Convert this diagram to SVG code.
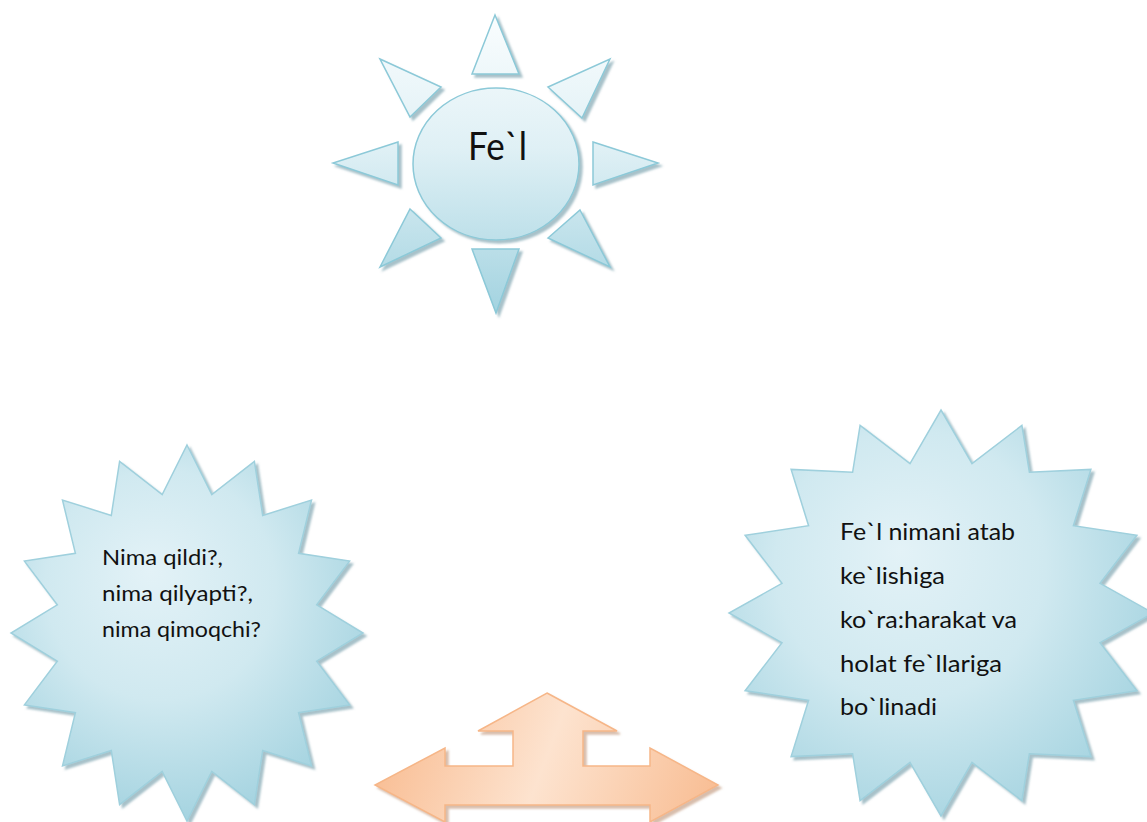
<svg xmlns="http://www.w3.org/2000/svg" width="1147" height="822" viewBox="0 0 1147 822">
  <defs>
    <style>
      .sun { fill: url(#sunGrad); stroke: #8cc9d8; stroke-width: 1.5; filter: url(#shadow); }
      .star { stroke: #9fd0dd; stroke-width: 1.5; filter: url(#shadow); }
      .lbl { font-family: Lato, "Open Sans", "Liberation Sans", sans-serif; fill: #111111; }
    </style>
    <linearGradient id="sunGrad" gradientUnits="userSpaceOnUse" x1="0" y1="15" x2="0" y2="313">
      <stop offset="0" stop-color="#fafdfe"/>
      <stop offset="0.45" stop-color="#dff0f5"/>
      <stop offset="1" stop-color="#a3d3e0"/>
    </linearGradient>
    <radialGradient id="starGradL" gradientUnits="userSpaceOnUse" cx="170" cy="600" r="230" fx="150" fy="570">
      <stop offset="0" stop-color="#e3f2f7"/>
      <stop offset="0.5" stop-color="#d0e9f0"/>
      <stop offset="1" stop-color="#a2d2df"/>
    </radialGradient>
    <radialGradient id="starGradR" gradientUnits="userSpaceOnUse" cx="920" cy="580" r="270" fx="900" fy="550">
      <stop offset="0" stop-color="#e3f2f7"/>
      <stop offset="0.5" stop-color="#d0e9f0"/>
      <stop offset="1" stop-color="#a2d2df"/>
    </radialGradient>
    <linearGradient id="arrowGrad" gradientUnits="userSpaceOnUse" x1="375" y1="693" x2="718" y2="822">
      <stop offset="0" stop-color="#f8b88b"/>
      <stop offset="0.5" stop-color="#fde3cf"/>
      <stop offset="1" stop-color="#f8bb90"/>
    </linearGradient>
    <filter id="shadow" x="-10%" y="-10%" width="125%" height="125%">
      <feDropShadow dx="3" dy="3" stdDeviation="1.2" flood-color="#5f8e9c" flood-opacity="0.55"/>
    </filter>
    <filter id="shadowO" x="-10%" y="-10%" width="125%" height="125%">
      <feDropShadow dx="3" dy="3" stdDeviation="1.2" flood-color="#b07d5a" flood-opacity="0.5"/>
    </filter>
  </defs>

  <g id="sun">
    <polygon class="sun" points="495,15 519,74 472,74"/>
    <polygon class="sun" points="610,59 582,118 548,87"/>
    <polygon class="sun" points="593,142 658,163 593,185"/>
    <polygon class="sun" points="580,210 610,267 548,238"/>
    <polygon class="sun" points="472,249 519,249 496,313"/>
    <polygon class="sun" points="410,209 441,238 380,267"/>
    <polygon class="sun" points="398,142 333,163 398,185"/>
    <polygon class="sun" points="380,59 441,87 410,117"/>
    <ellipse class="sun" cx="496" cy="164" rx="83" ry="76"/>
    <text class="lbl" x="468" y="160" font-size="38" textLength="59" lengthAdjust="spacingAndGlyphs">Fe`l</text>
  </g>

  <g id="star-left">
    <polygon class="star" fill="url(#starGradL)" points="187.0,445.0 211.8,494.7 254.4,461.3 262.7,515.4 311.5,500.1 298.6,553.3 349.6,561.1 316.7,604.8 363.0,633.0 316.7,661.2 349.6,704.9 298.6,712.7 311.5,765.9 262.7,750.6 254.4,804.7 211.8,771.3 187.0,821.0 162.2,771.3 119.6,804.7 111.3,750.6 62.5,765.9 75.4,712.7 24.4,704.9 57.3,661.2 11.0,633.0 57.3,604.8 24.4,561.1 75.4,553.3 62.5,500.1 111.3,515.4 119.6,461.3 162.2,494.7"/>
    <text class="lbl" font-size="22">
      <tspan x="102" y="565" textLength="121" lengthAdjust="spacingAndGlyphs">Nima qildi?,</tspan>
      <tspan x="102" y="601" textLength="151" lengthAdjust="spacingAndGlyphs">nima qilyapti?,</tspan>
      <tspan x="102" y="637" textLength="159" lengthAdjust="spacingAndGlyphs">nima qimoqchi?</tspan>
    </text>
  </g>

  <g id="star-right">
    <polygon class="star" fill="url(#starGradR)" points="941.0,410.0 972.0,463.6 1021.9,425.4 1029.4,472.3 1090.9,469.4 1073.4,525.7 1136.9,535.3 1100.0,583.3 1153.0,613.0 1100.0,642.7 1136.9,690.7 1073.4,700.3 1090.9,756.6 1029.4,753.7 1021.9,800.6 972.0,762.4 941.0,816.0 910.0,762.4 860.1,800.6 852.6,753.7 791.1,756.6 808.6,700.3 745.1,690.7 782.0,642.7 729.0,613.0 782.0,583.3 745.1,535.3 808.6,525.7 791.1,469.4 852.6,472.3 860.1,425.4 910.0,463.6"/>
    <text class="lbl" font-size="23">
      <tspan x="840" y="540" textLength="175" lengthAdjust="spacingAndGlyphs">Fe`l nimani atab</tspan>
      <tspan x="840" y="584" textLength="105" lengthAdjust="spacingAndGlyphs">ke`lishiga</tspan>
      <tspan x="840" y="628" textLength="177" lengthAdjust="spacingAndGlyphs">ko`ra:harakat va</tspan>
      <tspan x="840" y="672" textLength="162" lengthAdjust="spacingAndGlyphs">holat fe`llariga</tspan>
      <tspan x="840" y="715" textLength="97" lengthAdjust="spacingAndGlyphs">bo`linadi</tspan>
    </text>
  </g>

  <g id="arrow">
    <path d="M547,693 L617,731 L583,731 L583,766 L650,766 L650,748 L718,785 L650,822 L650,805 L445,805 L445,822 L375,785 L445,748 L445,766 L513,766 L513,731 L478,731 Z" fill="url(#arrowGrad)" stroke="#f6b688" stroke-width="1.5" filter="url(#shadowO)"/>
  </g>

  <g id="connectors"/>
</svg>
